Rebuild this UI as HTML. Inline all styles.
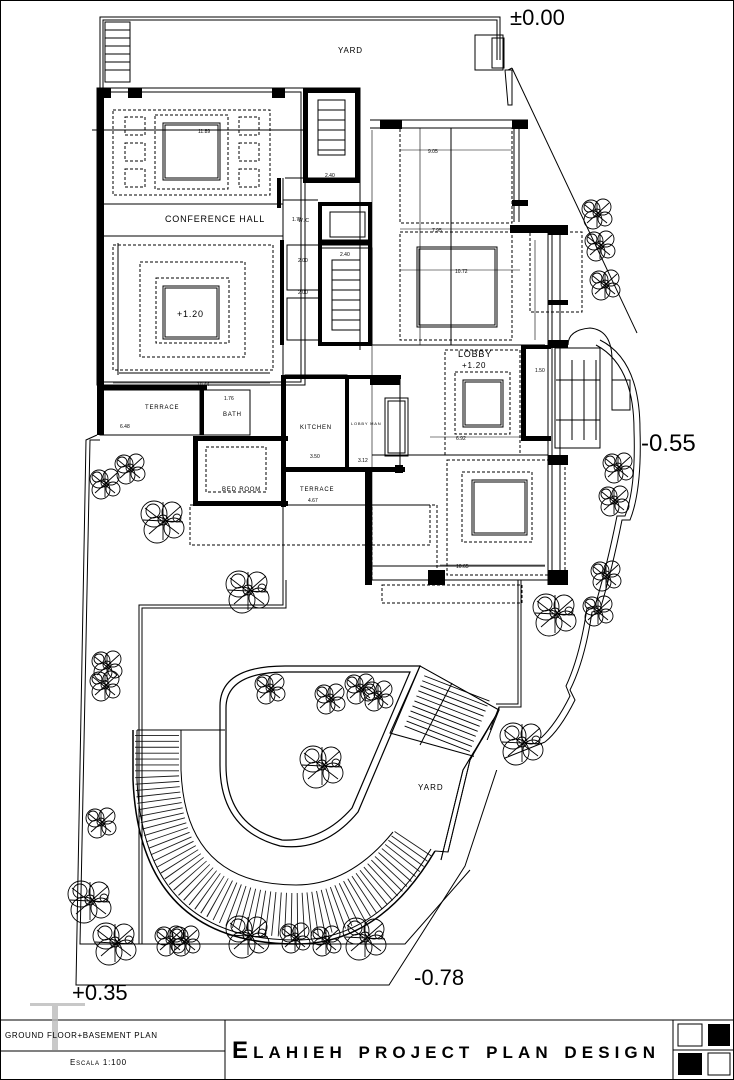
<!DOCTYPE html>
<html><head><meta charset="utf-8"><style>
html,body{margin:0;padding:0;background:#fff}
svg{display:block}
text{font-family:"Liberation Sans",sans-serif;fill:#000}
</style></head><body>
<svg width="734" height="1080" viewBox="0 0 734 1080" xmlns="http://www.w3.org/2000/svg">
<defs>
<g id="tree" fill="none" stroke="#000" stroke-width="0.9">
<circle cx="-6" cy="-4" r="9"/><circle cx="6" cy="-6" r="8"/><circle cx="-4" cy="7" r="9"/><circle cx="8" cy="6" r="7"/>
<circle cx="0" cy="0" r="4"/><circle cx="-8" cy="-6" r="5"/>
<path d="M-12 -8 L10 10 M-10 10 L12 -10 M0 -12 L0 14"/>
</g>
<g id="treeL" fill="none" stroke="#000" stroke-width="0.9">
<circle cx="-9" cy="-6" r="13"/><circle cx="9" cy="-8" r="10"/><circle cx="-6" cy="10" r="13"/><circle cx="11" cy="8" r="10"/>
<circle cx="0" cy="0" r="5"/><circle cx="-10" cy="-9" r="7"/><circle cx="14" cy="-2" r="4"/>
<path d="M-18 -12 L16 14 M-14 14 L18 -14 M0 -18 L0 20 M-20 0 L20 2"/>
</g>
</defs>
<rect x="0.5" y="0.5" width="733" height="1079" fill="none" stroke="#000"/>

<g fill="none" stroke="#000" stroke-width="1">
<path d="M100 88 V17 H500 V60"/><path d="M103 88 V20 H497 V60"/>
<path d="M105 22 H130 V82 H105 Z M105 30 H130 M105 38 H130 M105 46 H130 M105 54 H130 M105 62 H130 M105 70 H130"/>
<rect x="475" y="35" width="28" height="35"/><rect x="492" y="38" width="12" height="30"/>
<path d="M508 70 L512 68 M505 70 H512 V105 H508 Z"/>
<path d="M512 68 L637 333"/>
<path d="M97 435 L86 440 L76 985 H389 L465 866 L500 760 L545 742"/>
<path d="M100 440 L90 440 L80 944 H405 L470 870"/>
<path d="M139 944 V605 H283 V580"/><path d="M142 944 V608 H286 V580"/>
<path d="M521 580 V707 H499 L490 730"/><path d="M518 580 V704 H496"/>
<path d="M499 710 L470 760 L448 852 L435 851"/>
<path d="M493 720 L463 770 L441 860"/>
<path d="M600 340 Q640 360 640 430 Q642 490 630 520 L622 520 Q612 570 600 610 L592 612 Q585 660 570 690 L575 700 Q560 730 545 742"/>
<path d="M596 345 Q634 365 634 430 Q636 488 625 516 L617 516 Q607 566 595 606 L587 608 Q580 656 566 686 L570 696 Q556 724 541 738"/>
</g>

<g fill="none" stroke="#000">
<path d="M133 730 V780 Q140 944 296 944 Q380 944 435 851" stroke-width="1.5"/>
<path d="M137 730 V780 Q144 940 296 940 Q378 940 431 849" stroke-width="1"/>
<path d="M181 730 V770 Q185 885 296 885 Q350 885 393 832" stroke-width="1"/>
<path d="M157 735 V775 Q162 915 296 915 Q366 915 414 842" stroke="#000" stroke-width="44" stroke-dasharray="0.9 5" opacity="0.9"/>
<path d="M137 730 H225"/>
<path d="M285 666 H420 L358 812 Q325 852 280 846 Q220 830 220 765 V706 Q220 666 285 666 Z" stroke-width="1.2"/>
<path d="M287 672 H410 L352 808 Q322 842 282 840 Q226 826 226 765 V708 Q226 672 287 672 Z" stroke-width="1.2"/>
<path d="M420 666 L499 710 L480 758 L390 733 Z"/>
<path d="M452 683 L420 745"/>
<path d="M457 688 L436 742" stroke-width="70" stroke-dasharray="0.9 4.5"/>
</g>
<rect x="382" y="640" width="130" height="20" fill="#fff"/>
<path d="M420 666 L499 710 V707 H521 V640" fill="none" stroke="#000"/>
<rect x="474" y="740" width="30" height="30" fill="#fff"/>
<path d="M499 710 L470 760 L448 852" fill="none" stroke="#000"/>
<path d="M493 720 L463 770 L441 860" fill="none" stroke="#000"/>
<text x="418" y="790" font-size="8" letter-spacing="1">YARD</text>

<g fill="none" stroke="#000" stroke-width="1">
<rect x="97" y="88" width="208" height="297"/>
<rect x="101" y="92" width="200" height="290"/>
<g stroke-dasharray="3 2">
<rect x="113" y="110" width="157" height="85"/>
<rect x="155" y="115" width="73" height="74"/>
<rect x="125" y="117" width="20" height="18"/><rect x="125" y="143" width="20" height="18"/><rect x="125" y="169" width="20" height="18"/>
<rect x="239" y="117" width="20" height="18"/><rect x="239" y="143" width="20" height="18"/><rect x="239" y="169" width="20" height="18"/>
<rect x="113" y="245" width="160" height="125"/>
<rect x="140" y="262" width="105" height="95"/>
<rect x="156" y="278" width="73" height="65"/>
</g>
<rect x="163" y="123" width="57" height="57"/><rect x="165" y="125" width="53" height="53"/>
<rect x="163" y="286" width="56" height="53"/><rect x="165" y="288" width="52" height="49"/>
<path d="M101 204 H283 M101 236 H283 M92 130 H305 M119 373 H270 M118 243 V375"/>
<rect x="305" y="88" width="55" height="90"/>
<path d="M318 100 H345 V155 H318 Z M318 110 H345 M318 120 H345 M318 130 H345 M318 140 H345 M318 150 H345"/>
<path d="M285 178 H320 M283 178 V378 M283 200 H318 M320 245 H370"/>
<rect x="320" y="205" width="50" height="35"/>
<rect x="330" y="212" width="35" height="25"/>
<rect x="320" y="248" width="52" height="97"/>
<path d="M332 260 H360 V330 H332 Z M332 270 H360 M332 280 H360 M332 290 H360 M332 300 H360 M332 310 H360 M332 320 H360"/>
<rect x="287" y="245" width="33" height="45"/><rect x="287" y="298" width="33" height="42"/>
<rect x="100" y="390" width="100" height="45"/>
<rect x="200" y="390" width="50" height="45"/>
<rect x="195" y="437" width="90" height="68"/>
<rect x="206" y="447" width="60" height="45" stroke-dasharray="3 2"/>
<rect x="285" y="375" width="62" height="95"/>
<rect x="347" y="378" width="53" height="90"/>
<rect x="385" y="398" width="23" height="58"/><rect x="388" y="401" width="17" height="52"/>
<rect x="285" y="470" width="85" height="35"/>
<rect x="190" y="505" width="240" height="40" stroke-dasharray="3 2"/>
<path d="M283 505 V580"/>
<path d="M370 120 H528 M370 128 H515 M360 178 V350 M372 345 H545 M372 455 H548"/>
<g stroke-dasharray="3 2">
<rect x="400" y="128" width="112" height="95"/>
<rect x="400" y="232" width="112" height="108"/>
<rect x="530" y="232" width="52" height="80"/>
<rect x="445" y="350" width="75" height="105"/>
<rect x="455" y="372" width="55" height="62"/>
<rect x="447" y="460" width="118" height="115"/>
<rect x="462" y="472" width="70" height="70"/>
<rect x="372" y="505" width="65" height="75"/>
<rect x="382" y="585" width="140" height="18"/>
</g>
<rect x="417" y="247" width="80" height="80"/><rect x="419" y="249" width="76" height="76"/>
<rect x="463" y="380" width="40" height="47"/><rect x="465" y="382" width="36" height="43"/>
<rect x="472" y="480" width="55" height="55"/><rect x="474" y="482" width="51" height="51"/>
<path d="M451 128 V345 M514 128 V222 M519 128 V222 M548 232 V585 M552 232 V585 M560 232 V585 M372 580 H560 M372 566 H545"/>
<rect x="555" y="348" width="45" height="100"/>
<path d="M560 360 V440 M572 360 V440 M584 360 V440 M596 360 V440 M556 380 H600 M556 420 H600"/>
<path d="M568 345 Q568 330 590 328 Q612 330 612 360 V410 H630 V380 H612"/>
</g>
<g fill="#000">
<rect x="97" y="88" width="7" height="347"/>
<rect x="97" y="88" width="14" height="10"/><rect x="128" y="88" width="14" height="10"/><rect x="272" y="88" width="13" height="10"/>
<rect x="303" y="88" width="5" height="95"/><rect x="355" y="88" width="5" height="95"/><rect x="303" y="88" width="57" height="5"/><rect x="303" y="178" width="57" height="5"/>
<rect x="380" y="120" width="22" height="9"/><rect x="512" y="120" width="16" height="9"/><rect x="512" y="200" width="16" height="6"/>
<rect x="510" y="225" width="58" height="8"/>
<rect x="318" y="202" width="54" height="4"/><rect x="318" y="202" width="4" height="143"/><rect x="368" y="202" width="4" height="143"/><rect x="318" y="240" width="54" height="5"/><rect x="318" y="342" width="54" height="4"/>
<rect x="280" y="240" width="4" height="105"/><rect x="277" y="178" width="4" height="30"/>
<rect x="97" y="385" width="110" height="5"/><rect x="200" y="390" width="4" height="45"/>
<rect x="193" y="436" width="5" height="70"/><rect x="193" y="436" width="95" height="5"/><rect x="193" y="501" width="95" height="5"/>
<rect x="281" y="375" width="5" height="132"/><rect x="281" y="375" width="120" height="4"/>
<rect x="370" y="375" width="30" height="10"/><rect x="345" y="375" width="4" height="95"/>
<rect x="285" y="467" width="120" height="5"/><rect x="365" y="470" width="7" height="115"/>
<rect x="428" y="570" width="17" height="15"/><rect x="548" y="570" width="20" height="15"/><rect x="548" y="455" width="20" height="10"/>
<rect x="548" y="225" width="20" height="10"/><rect x="548" y="300" width="20" height="5"/>
<rect x="521" y="345" width="5" height="95"/><rect x="521" y="345" width="30" height="4"/><rect x="521" y="436" width="30" height="5"/>
<rect x="548" y="340" width="20" height="8"/>
<rect x="395" y="465" width="8" height="8"/>
</g>
<g stroke="#000" stroke-width="0.6">
<path d="M113 383 H270 M110 130 H300 M101 150 V380 M400 150 H512 M400 229 H512 M400 270 H520 M430 437 H545 M440 565 H545 M372 130 V580 M420 128 V345 M535 240 V340"/>
</g>
<g font-size="5">
<text x="198" y="133">11.89</text><text x="197" y="386">10.44</text><text x="428" y="153">9.05</text><text x="432" y="232">7.95</text>
<text x="455" y="273">10.72</text><text x="456" y="440">6.92</text><text x="456" y="568">10.65</text>
<text x="120" y="428">6.48</text><text x="310" y="458">3.50</text><text x="308" y="502">4.67</text><text x="358" y="462">3.12</text>
<text x="325" y="177">2.40</text><text x="340" y="256">2.40</text><text x="298" y="262">2.00</text><text x="298" y="294">2.00</text><text x="292" y="221">1.70</text>
<text x="224" y="400">1.76</text><text x="535" y="372">1.50</text>
</g>
<g font-size="7" letter-spacing="0.8">
<text x="165" y="222" font-size="9">CONFERENCE HALL</text>
<text x="177" y="317" font-size="9">+1.20</text>
<text x="338" y="53" font-size="8">YARD</text>
<text x="458" y="357" font-size="9">LOBBY</text><text x="462" y="368" font-size="8">+1.20</text>
<text x="145" y="409" font-size="6">TERRACE</text><text x="223" y="416" font-size="6">BATH</text>
<text x="300" y="429" font-size="6">KITCHEN</text><text x="351" y="425" font-size="4">LOBBY MAN</text>
<text x="300" y="491" font-size="6">TERRACE</text><text x="222" y="491" font-size="6">BED ROOM</text>
<text x="298" y="222" font-size="5">W.C</text>
</g>

<use href="#tree" x="130" y="468"/><use href="#tree" x="105" y="483"/><use href="#treeL" x="163" y="520"/>
<use href="#treeL" x="248" y="590"/><use href="#tree" x="107" y="665"/><use href="#tree" x="105" y="685"/>
<use href="#tree" x="270" y="688"/><use href="#tree" x="330" y="698"/><use href="#tree" x="360" y="688"/><use href="#tree" x="378" y="695"/>
<use href="#treeL" x="322" y="765"/><use href="#tree" x="101" y="822"/>
<use href="#treeL" x="90" y="900"/><use href="#treeL" x="115" y="942"/><use href="#tree" x="170" y="940"/><use href="#tree" x="185" y="940"/>
<use href="#treeL" x="248" y="935"/><use href="#tree" x="295" y="937"/><use href="#tree" x="326" y="940"/><use href="#treeL" x="365" y="937"/>
<use href="#treeL" x="555" y="613"/><use href="#tree" x="598" y="610"/><use href="#treeL" x="522" y="742"/>
<use href="#tree" x="597" y="213"/><use href="#tree" x="600" y="245"/><use href="#tree" x="605" y="284"/>
<use href="#tree" x="618" y="467"/><use href="#tree" x="614" y="500"/><use href="#tree" x="606" y="575"/>

<g font-family="'Liberation Sans Narrow','Liberation Sans',sans-serif">
<text x="510" y="25" font-size="22">±0.00</text>
<text x="641" y="451" font-size="24">-0.55</text>
<text x="414" y="985" font-size="22">-0.78</text>
<text x="72" y="1000" font-size="22">+0.35</text>
</g>

<g fill="none" stroke="#000" stroke-width="1">
<path d="M0 1020 H734 M0 1051 H225 M225 1020 V1080 M673 1020 V1080 M673 1050 H734"/>
<rect x="678" y="1024" width="24" height="22"/><rect x="708" y="1053" width="22" height="22"/>
</g>
<rect x="708" y="1024" width="22" height="22" fill="#000"/><rect x="678" y="1053" width="24" height="22" fill="#000"/>
<g fill="#bbb" opacity="0.8"><rect x="30" y="1003" width="55" height="3"/><rect x="52" y="1006" width="6" height="44"/></g>
<text x="5" y="1038" font-size="8" letter-spacing="0.6">GROUND FLOOR+BASEMENT PLAN</text>
<text x="70" y="1065" font-size="8" letter-spacing="0.8" style="font-variant:small-caps">Escala 1:100</text>
<text x="232" y="1058" font-size="24" font-weight="bold" textLength="423" lengthAdjust="spacing" style="font-variant:small-caps">Elahieh project plan design</text>
</svg>
</body></html>
